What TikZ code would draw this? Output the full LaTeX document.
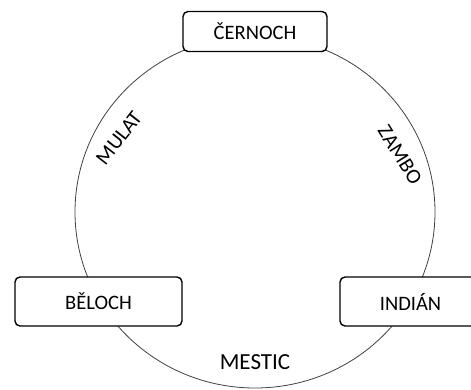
\documentclass[tikz,border=0pt]{standalone}
\usepackage{fontspec}
\setmainfont{Carlito}

\tikzset{
  rod/.style={draw, line width=1.4pt, rounded corners=5pt, fill=white,
    font=\fontsize{20.5}{24}\selectfont},
  vztah/.style={font=\fontsize{21}{24}\selectfont, inner sep=0pt},
}

\begin{document}
\begin{tikzpicture}[x=1pt, y=-1pt]
  \clip (0,0) rectangle (471,389);

  % kruh
  \coordinate (s) at (255, 212);
  \draw[line width=0.8pt, black!75] (s) ellipse [x radius=180, y radius=176];

  % rodice
  \node[rod, minimum width=144pt, minimum height=40pt] (cern) at (255, 31.5) {ČERNOCH};
  \node[rod, minimum width=167pt, minimum height=49pt] (bel) at (98.5, 301.5) {BĚLOCH};
  \node[rod, minimum width=141pt, minimum height=49pt] (ind) at (410.5, 301.5) {INDIÁN};

  % potomci
  \node[vztah, rotate=52] (mul) at (119, 138) {MULAT};
  \node[vztah, rotate=-58] (zam) at (400, 155) {ZAMBO};
  \node[vztah, font=\fontsize{23}{26}\selectfont] (mes) at (255, 362) {MESTIC};
\end{tikzpicture}
\end{document}
